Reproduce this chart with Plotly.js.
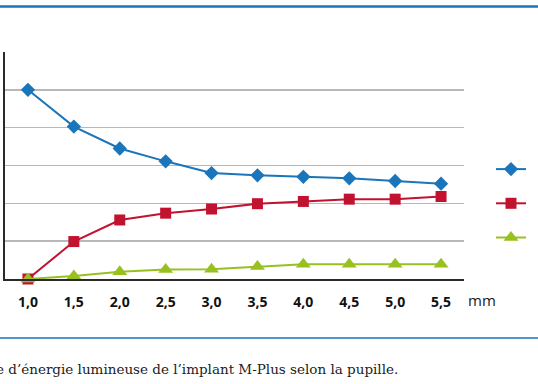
<!DOCTYPE html>
<html>
<head>
<meta charset="utf-8">
<script src="https://cdn.plot.ly/plotly-3.0.1.min.js"></script>
<style>html,body{margin:0;padding:0;background:#fff;}#chart{width:538px;height:384px;}</style>
</head>
<body>
<div id="chart"></div>
<script>
// Pupil diameter (mm)
var pupil = [1.0, 1.5, 2.0, 2.5, 3.0, 3.5, 4.0, 4.5, 5.0, 5.5];
var tickLabels = ['1,0', '1,5', '2,0', '2,5', '3,0', '3,5', '4,0', '4,5', '5,0', '5,5'];
var seriesNames = ['Vision de loin', 'Vision de près', 'Pertes'];
var seriesBlue  = [5.0, 4.03, 3.45, 3.11, 2.80, 2.74, 2.70, 2.66, 2.59, 2.52];
var seriesRed   = [0.0, 0.99, 1.56, 1.74, 1.85, 1.99, 2.05, 2.11, 2.11, 2.18];
var seriesGreen = [0.0, 0.08, 0.19, 0.25, 0.26, 0.33, 0.39, 0.39, 0.39, 0.39];
var unitLabel = 'mm';
var caption = 'e d\u2019énergie lumineuse de l\u2019implant M-Plus selon la pupille.';

var blue = '#1b75bb', red = '#c1132f', green = '#98c11f';

function mk(y, name, color, symbol, size) {
  return {
    x: pupil, y: y, name: '\u2003' + name, type: 'scatter', mode: 'lines+markers',
    line: {color: color, width: 2},
    marker: {color: color, symbol: symbol, size: size, line: {width: 0}},
    cliponaxis: false
  };
}

var data = [
  mk(seriesBlue, seriesNames[0], blue, 'diamond', 11),
  mk(seriesRed, seriesNames[1], red, 'square', 11),
  mk(seriesGreen, seriesNames[2], green, 'triangle-up', 13)
];

var layout = {
  width: 538, height: 384,
  margin: {l: 5, r: 74, t: 52, b: 105, autoexpand: false},
  paper_bgcolor: '#ffffff', plot_bgcolor: '#ffffff',
  showlegend: true,
  legend: {
    x: 1.0588, xanchor: 'left', y: 0.5815, yanchor: 'top',
    font: {family: 'Open Sans', size: 24, color: '#222'},
    bgcolor: 'rgba(0,0,0,0)', borderwidth: 0, itemwidth: 30
  },
  xaxis: {
    type: 'linear', range: [0.75, 5.75],
    tickvals: pupil, ticktext: tickLabels,
    showgrid: false, zeroline: false,
    showline: true, linecolor: '#2a2a2a', linewidth: 2,
    ticks: '', ticklabelstandoff: 9,
    tickfont: {family: 'Open Sans', size: 14, color: '#111', weight: 'bold'}
  },
  yaxis: {
    range: [0, 6], dtick: 1, tick0: 0,
    showgrid: true, gridcolor: '#b8b8b8', gridwidth: 1.5,
    zeroline: false, showline: true, linecolor: '#2a2a2a', linewidth: 2,
    showticklabels: false, ticks: ''
  },
  shapes: [
    {type: 'line', xref: 'paper', yref: 'paper', x0: -0.05, x1: 1.2, y0: 1.2004, y1: 1.2004,
     line: {color: blue, width: 2.5}},
    {type: 'line', xref: 'paper', yref: 'paper', x0: -0.05, x1: 1.2, y0: -0.26, y1: -0.26,
     line: {color: blue, width: 1.5}}
  ],
  annotations: [
    {text: unitLabel, xref: 'paper', yref: 'paper', x: 1.0392, y: -0.0947,
     xanchor: 'center', yanchor: 'middle', showarrow: false,
     font: {family: 'Open Sans', size: 15, color: '#1a1a1a'}},
    {text: caption, xref: 'paper', yref: 'paper', x: 0.8606, y: -0.3965,
     xanchor: 'right', yanchor: 'middle', showarrow: false,
     font: {family: 'DejaVu Serif', size: 13.5, color: '#222'}}
  ]
};

Plotly.newPlot('chart', data, layout, {displayModeBar: false, staticPlot: true});
</script>
</body>
</html>
